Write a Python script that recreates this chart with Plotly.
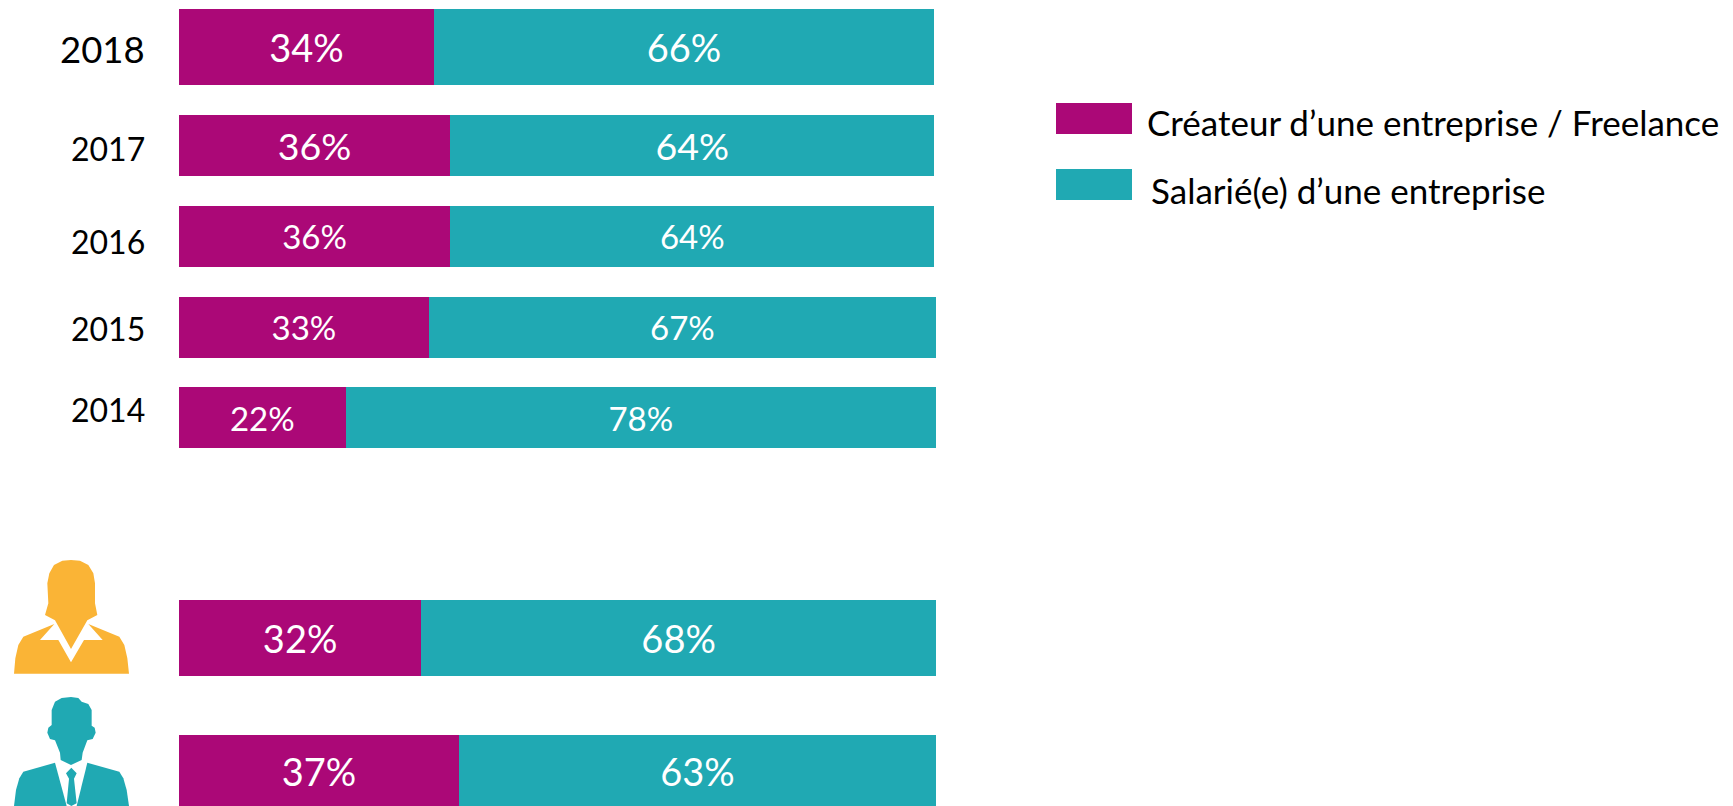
import plotly.graph_objects as go

W, H = 1733, 806

# ---- data ----
row_labels = ["2018", "2017", "2016", "2015", "2014", "Femmes", "Hommes"]
createur = [33.7, 35.8, 35.8, 33, 22, 32, 37]
salarie = [66, 64, 64, 67, 78, 68, 63]
createur_labels = ["34%", "36%", "36%", "33%", "22%", "32%", "37%"]
salarie_labels = ["66%", "64%", "64%", "67%", "78%", "68%", "63%"]
series_names = ["Créateur d’une entreprise / Freelance", "Salarié(e) d’une entreprise"]
years = ["2018", "2017", "2016", "2015", "2014"]

# ---- layout (pixel rows on the y axis) ----
row_centers = [47, 145.5, 236, 327, 417.5, 638, 770.5]
row_heights = [76, 61, 61, 61, 61, 76, 71]
label_sizes = [38, 37.5, 33, 33, 33, 38, 38]
year_sizes = [36.5, 32, 32, 32, 32]
year_y = [49, 148, 241, 328, 409]
MAGENTA, TEAL, AMBER = "#AB0877", "#20A9B3", "#FAB436"
FONT = "Lato"


def px(x, y):
    return x / W, 1 - y / H


def zpath(points, ox=0, oy=540, s=3):
    """SVG path in paper coordinates from points read in a 3x crop."""
    out = []
    for i, (x, y) in enumerate(points):
        a, b = px(ox + x / s, oy + y / s)
        out.append(("M" if i == 0 else "L") + f"{a:.5f},{b:.5f}")
    return " ".join(out) + " Z"


def icon(points, color):
    return dict(type="path", xref="paper", yref="paper", path=zpath(points),
                fillcolor=color, line=dict(width=0), layer="above")


woman_head = [(135, 225), (165, 241), (213, 327), (262, 241), (292, 225), (285, 190), (285, 130),
              (280, 100), (265, 75), (240, 62), (213, 60), (187, 62), (162, 75), (148, 100),
              (142, 130), (145, 190)]
woman_body = [(42, 401), (46, 355), (55, 315), (70, 290), (163, 252), (120, 300), (175, 300), (213, 367),
              (252, 300), (308, 300), (265, 252), (358, 290), (373, 315), (382, 355), (387, 401)]
man_head = [(213, 471), (185, 474), (165, 485), (155, 510), (155, 555), (145, 563), (142, 578), (150, 597),
            (165, 601), (180, 638), (182, 660), (213, 675), (245, 660), (248, 638), (262, 601), (278, 597),
            (287, 578), (284, 563), (275, 557), (275, 510), (265, 492), (245, 485), (235, 474)]
man_left = [(42, 798), (48, 750), (58, 715), (70, 695), (165, 668), (200, 798)]
man_right = [(262, 668), (358, 695), (370, 715), (380, 750), (387, 798), (230, 798)]
man_tie = [(214, 683), (230, 700), (222, 716), (230, 790), (214, 798), (200, 790), (207, 716), (198, 700)]

fig = go.Figure()
for name, vals, labels, color in zip(series_names, [createur, salarie], [createur_labels, salarie_labels],
                                     [MAGENTA, TEAL]):
    fig.add_bar(
        name=name, orientation="h", x=vals, y=row_centers, width=row_heights,
        marker=dict(color=color, line=dict(width=0)),
        text=labels, textposition="inside", insidetextanchor="middle",
        textangle=0, constraintext="none", customdata=row_labels,
        insidetextfont=dict(color="white", size=label_sizes, family=FONT),
    )

annotations = []
for yr, y, size in zip(years, year_y, year_sizes):
    annotations.append(dict(text=yr, xref="paper", yref="y", x=147 / W, y=y, xanchor="right",
                            yanchor="middle", showarrow=False, font=dict(size=size, color="black", family=FONT)))
for name, xp, yp in zip(series_names, [1145, 1149], [122, 190]):
    annotations.append(dict(text=name, xref="paper", yref="y", x=xp / W, y=yp, xanchor="left",
                            yanchor="middle", showarrow=False, font=dict(size=35, color="black", family=FONT)))

shapes = [icon(woman_head, AMBER), icon(woman_body, AMBER), icon(man_head, TEAL),
          icon(man_left, TEAL), icon(man_right, TEAL), icon(man_tie, TEAL)]
for color, y0, y1 in zip([MAGENTA, TEAL], [103, 169], [134, 200]):
    shapes.append(dict(type="rect", xref="paper", yref="y", x0=1056 / W, x1=1132 / W, y0=y0, y1=y1,
                       fillcolor=color, line=dict(width=0)))

fig.update_layout(
    width=W, height=H, margin=dict(l=0, r=0, t=0, b=0), barmode="stack",
    paper_bgcolor="white", plot_bgcolor="white", showlegend=False, font=dict(family=FONT),
    xaxis=dict(domain=[179 / W, 936 / W], range=[0, 100], visible=False),
    yaxis=dict(domain=[0, 1], range=[H, 0], visible=False),
    annotations=annotations, shapes=shapes,
)
fig.write_html("out.html", config=dict(displayModeBar=False),
               post_script="document.body.style.margin='0';document.body.style.overflow='hidden';")
